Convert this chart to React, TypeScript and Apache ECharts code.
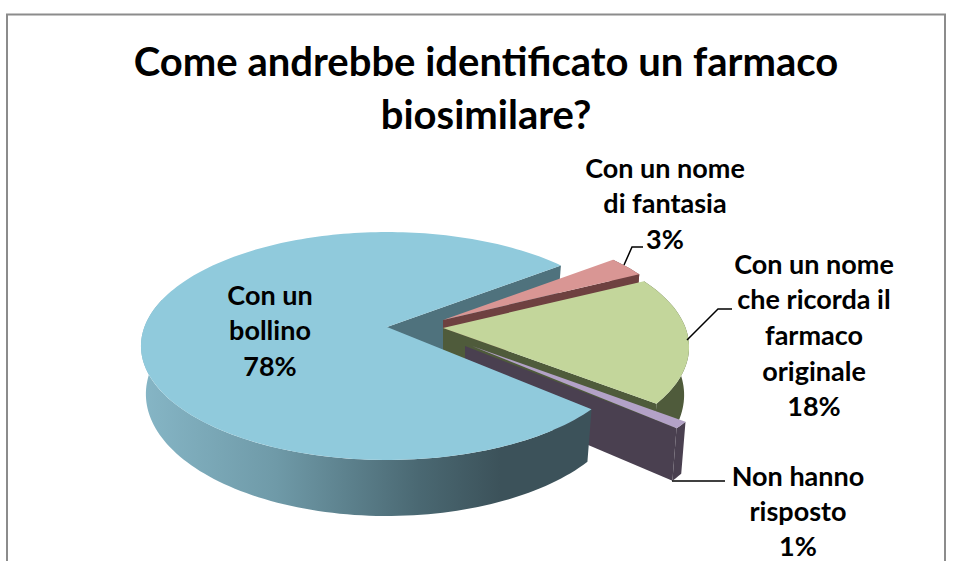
import React, { useEffect, useRef } from "react";
import * as echarts from "echarts";

const titleText = "Come andrebbe identificato un farmaco\nbiosimilare?";
const categories = ["Con un bollino", "Con un nome di fantasia", "Con un nome che ricorda il farmaco originale", "Non hanno risposto"];
const values = [78, 3, 18, 1];
const labelLines = [["Con un", "bollino"], ["Con un nome", "di fantasia"], ["Con un nome", "che ricorda il", "farmaco", "originale"], ["Non hanno", "risposto"]];

const FIRST_ANGLE = 41.4;
const CX = 387, CY = 327, RX = 242.6, RY = 110.8, K = 1 / 6, DEPTH = 46.7, SHRINK = 0.98;
const offsets = [[0, 0], [56, -7], [56, 1], [85, 19]];
const radii = [1, 0.975, 1, 1];
const wallLead = [0, 0, 0, 7];
const tops = ["#90CADC", "#D99694", "#C3D69B", "#B3A2C7"];
const walls = ["#4F727D", "#6E4140", "#4F5B3B", "#4A4050"];
const labelPos = [[270, 294], [665, 167], [814, 263], [798, 475]];
const labelSteps = [35.7, 35.7, 35.7, 35];
const FONT = "Lato";

const total = values.reduce((a, b) => a + b, 0);
const spans = values.map((v) => (v / total) * 360);
const starts = spans.map((_, i) => FIRST_ANGLE + spans.slice(0, i).reduce((a, b) => a + b, 0));

const rad = (d: number) => (d * Math.PI) / 180;
const project = (deg: number, r: number, o: number[]) => {
  const s = Math.sin(rad(deg)) * r, c = Math.cos(rad(deg)) * r;
  const w = 1 - K * s;
  return [CX + o[0] + (RX * c) / w, CY + o[1] + (RY * s) / w];
};
const drop = (p: number[], deg: number, r: number, o: number[]) => {
  const s = Math.sin(rad(deg)) * r;
  return [o[0] + CX + (p[0] - CX - o[0]) * SHRINK, p[1] + DEPTH / (1 - K * s)];
};
const arc = (a: number, b: number, o: number[], r: number) => {
  const n = Math.max(2, Math.ceil(Math.abs(b - a) / 1.5));
  const out: number[][] = [];
  for (let i = 0; i <= n; i++) out.push(project(a + ((b - a) * i) / n, r, o));
  return out;
};
const poly = (points: number[][], fill: any) => ({ type: "polygon", shape: { points }, style: { fill }, silent: true });

// cut wall between the apex and one rim angle
const cutWall = (deg: number, o: number[], r: number, fill: any, lead = 0) => {
  const a = project(deg, 0, o), b = project(deg, r, o);
  const a2 = [a[0] - lead, a[1]];
  return poly([a2, b, drop(b, deg, r, o), drop(a2, deg, 0, o)], fill);
};
const rimWall = (a: number, b: number, o: number[], r: number, fill: any) => {
  const n = Math.max(2, Math.ceil(Math.abs(b - a) / 1.5));
  const up: number[][] = [], low: number[][] = [];
  for (let i = 0; i <= n; i++) {
    const d = a + ((b - a) * i) / n;
    const p = project(d, r, o);
    up.push(p);
    low.push(drop(p, d, r, o));
  }
  return poly(up.concat(low.reverse()), fill);
};

const rimGradient = new echarts.graphic.LinearGradient(141, 0, 590, 0, [
  { offset: 0, color: "#86B6C6" },
  { offset: 0.3, color: "#6F9AA8" },
  { offset: 0.62, color: "#4A6872" },
  { offset: 0.8, color: "#3C525A" },
  { offset: 1, color: "#3C525A" },
], true);

const renderBackWall = (_: any, api: any) => {
  const i = api.value(0);
  return cutWall(starts[i] + spans[i], offsets[i], radii[i], walls[i]);
};
const renderSlice = (_: any, api: any) => {
  const i = api.value(0);
  const o = offsets[i], r = radii[i];
  const a = starts[i], b = a + spans[i];
  const kids: any[] = [];
  if (i === 0) {
    kids.push(rimWall(a, 195, o, r, rimGradient));
  } else {
    kids.push(cutWall(b, o, r, walls[i], wallLead[i]));
    kids.push(rimWall(a, b, o, r, walls[i]));
  }
  kids.push(poly([project(a, 0, o)].concat(arc(a, b, o, r)), tops[i]));
  return { type: "group", children: kids };
};

const label = (lines: string[], x: number, y: number, step: number) =>
  lines.map((t, n) => ({
    type: "text",
    x,
    y: y + n * step,
    silent: true,
    z: 20,
    style: { text: t, fill: "#000", font: `bold 27px ${FONT}`, textAlign: "center", textVerticalAlign: "middle" },
  }));
const leader = (points: number[][]) => ({
  type: "polyline",
  silent: true,
  z: 20,
  shape: { points },
  style: { stroke: "#000", lineWidth: 1.5, fill: "none" },
});

const App = () => {
  const ref = useRef<HTMLDivElement>(null);
  useEffect(() => {
    document.body.style.margin = "0";
    const chart = echarts.init(ref.current!, null, { renderer: "svg" });
    chart.setOption({
      animation: false,
      backgroundColor: "#fff",
      title: {
        text: titleText,
        left: 481,
        top: 29,
        textAlign: "center",
        textStyle: { fontFamily: FONT, fontWeight: "bold", fontSize: 40, lineHeight: 53, color: "#000" },
      },
      graphic: [
        { type: "rect", shape: { x: 7, y: 14.5, width: 938, height: 560 }, style: { fill: "none", stroke: "#8C8C8C", lineWidth: 2 }, silent: true, z: -1 },
        leader([[643, 247], [632, 247], [624, 265]]),
        leader([[687, 340], [718, 309], [732, 309]]),
        leader([[672, 481], [725, 481]]),
        ...labelLines.flatMap((lines, i) => label(lines.concat(`${values[i]}%`), labelPos[i][0], labelPos[i][1], labelSteps[i])),
      ],
      series: [
        { type: "custom", coordinateSystem: "none", name: "back", silent: true, data: [[0]], renderItem: renderBackWall, z: 1 },
        { type: "custom", coordinateSystem: "none", name: "slices", silent: true, data: [[1, categories[1]], [2, categories[2]], [3, categories[3]], [0, categories[0]]], renderItem: renderSlice, z: 2 },
      ],
    });
    return () => chart.dispose();
  }, []);
  return <div ref={ref} style={{ position: "fixed", left: 0, top: 0, width: 954, height: 561 }} />;
};

export default App;
